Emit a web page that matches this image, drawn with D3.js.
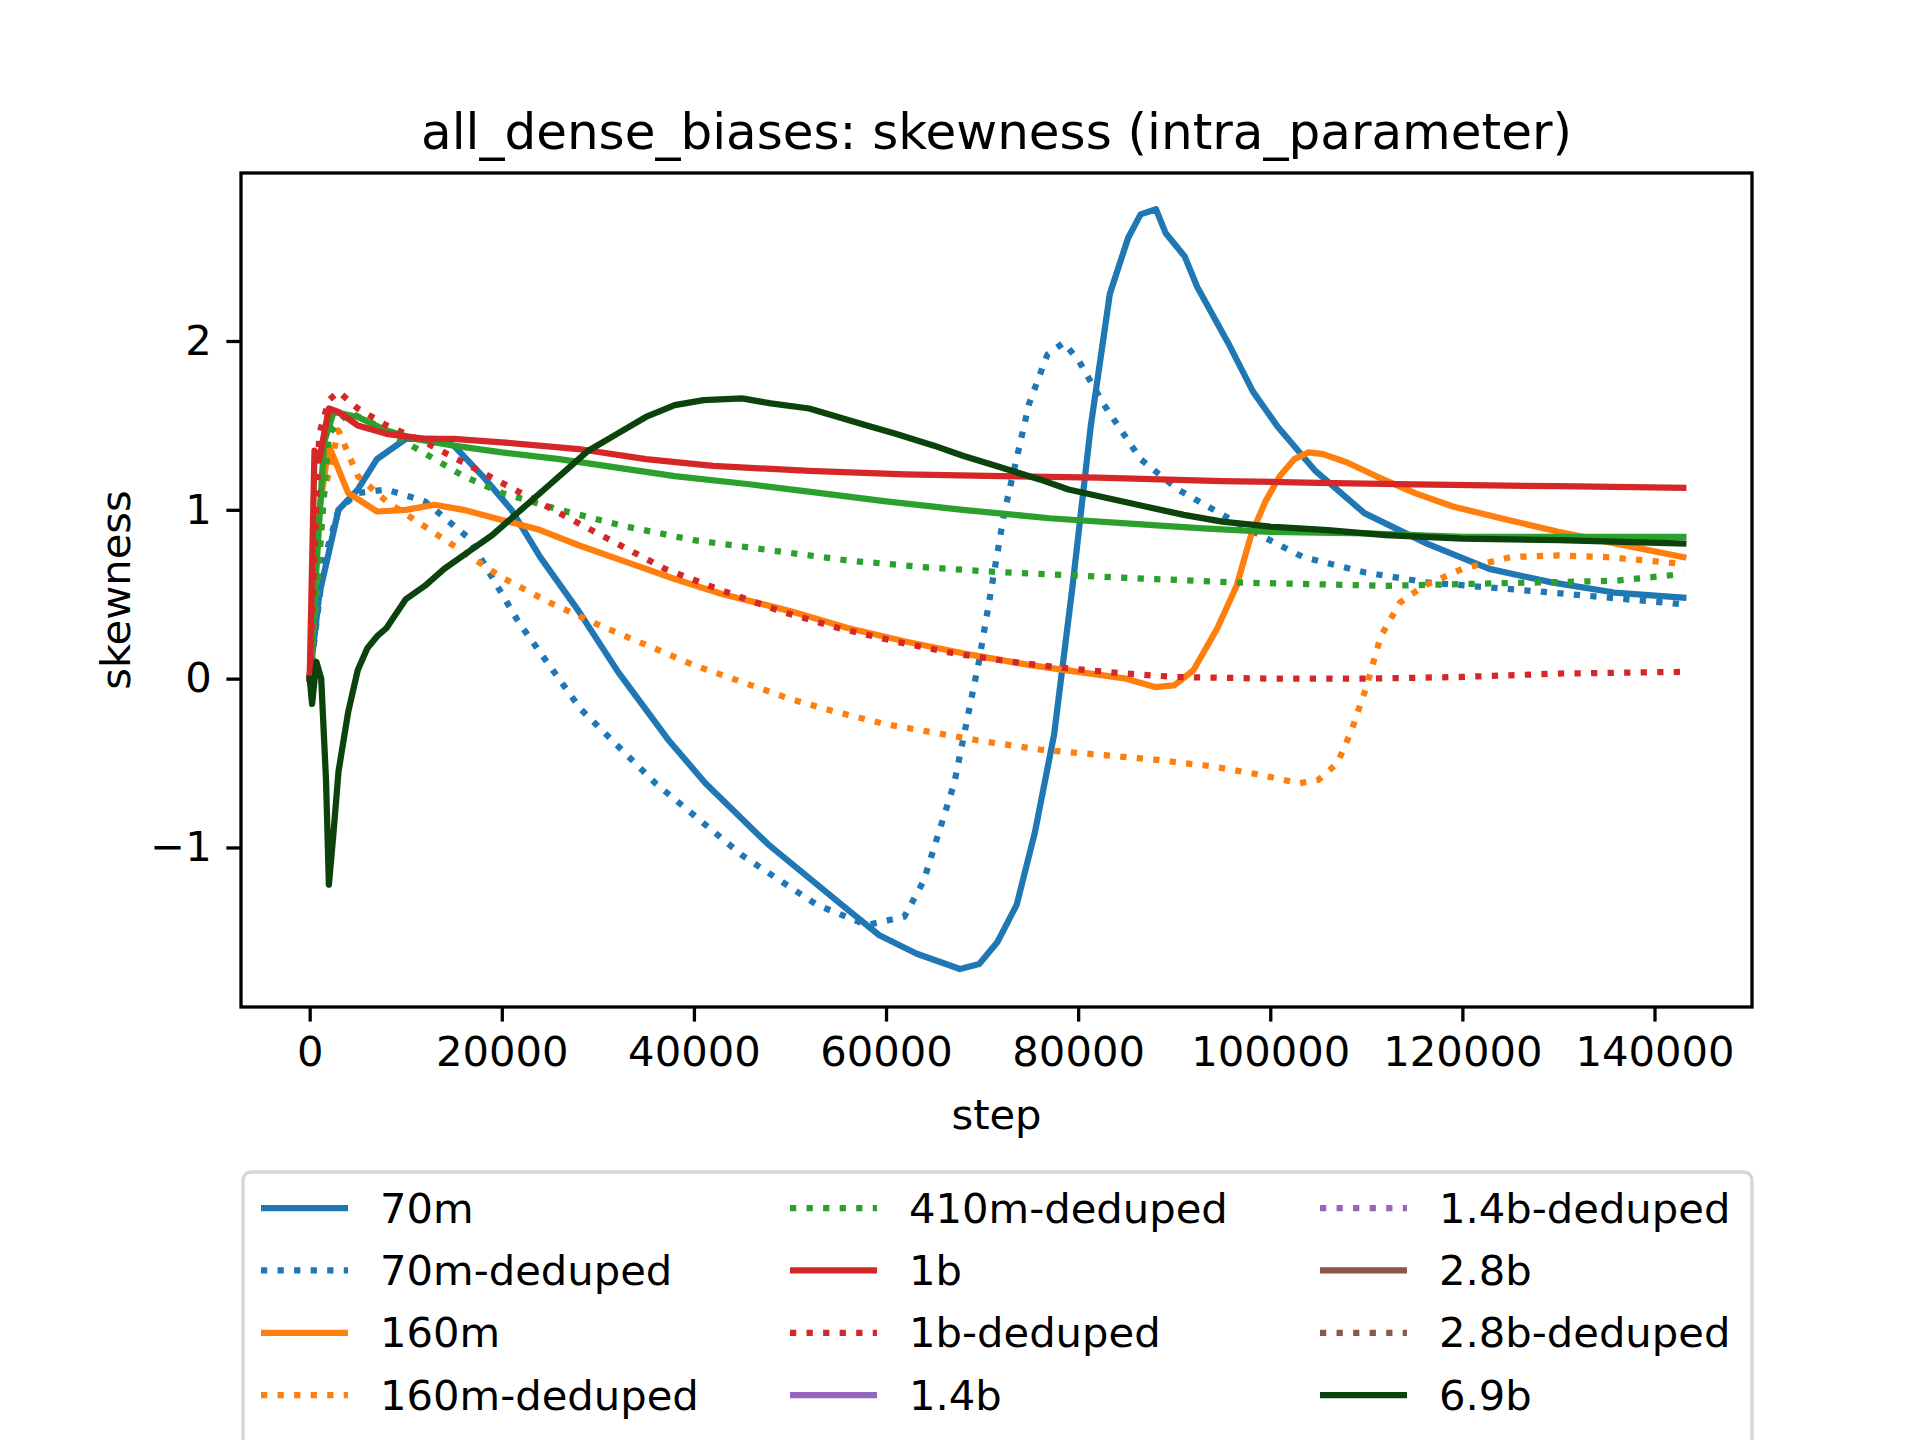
<!DOCTYPE html>
<html><head><meta charset="utf-8">
<script src="https://cdn.jsdelivr.net/npm/d3@7"></script>
<style>body{margin:0;background:#fff}text{font-family:"DejaVu Sans",sans-serif}</style>
</head><body>
<svg id="chart" width="1920" height="1440"></svg>
<script>
// series data: [step, skewness]
const s70m = [[0,0],[1000,0.5],[2000,0.75],[3000,1.0],[5000,1.12],[7000,1.3],[10000,1.42],[13000,1.42],[15000,1.38],[18000,1.2],[21000,1.0],[24000,0.72],[28000,0.4],[32100,0.04],[37300,-0.36],[41200,-0.62],[47700,-0.98],[55400,-1.34],[59300,-1.52],[63200,-1.63],[67700,-1.72],[69700,-1.69],[71600,-1.56],[73600,-1.34],[75500,-0.91],[77500,-0.33],[79400,0.54],[81300,1.49],[83300,2.28],[85200,2.61],[86500,2.75],[88100,2.78],[89100,2.64],[91100,2.5],[92400,2.32],[95600,1.99],[98200,1.7],[100800,1.49],[104700,1.23],[109800,0.98],[116300,0.8],[122800,0.65],[129300,0.57],[135800,0.51],[143000,0.48]];
const s70mDedup = [[0,0],[1500,0.7],[3000,1.0],[5000,1.1],[8000,1.12],[12000,1.05],[16600,0.83],[21800,0.33],[28200,-0.18],[36000,-0.62],[45100,-1.05],[52800,-1.34],[58000,-1.46],[61900,-1.41],[63900,-1.2],[67100,-0.62],[69700,0.11],[72300,0.98],[74900,1.63],[76800,1.92],[78500,1.99],[80100,1.88],[82600,1.63],[86500,1.3],[90400,1.12],[96900,0.91],[103400,0.72],[109800,0.63],[116300,0.57],[129300,0.51],[143000,0.44]];
const s160m = [[0,0],[1000,1.0],[2000,1.38],[4000,1.1],[7000,0.99],[10000,1.0],[13000,1.03],[16000,1.0],[20000,0.94],[24000,0.88],[28000,0.79],[33000,0.69],[38000,0.59],[43000,0.5],[50000,0.4],[56000,0.3],[62000,0.22],[68000,0.15],[75000,0.08],[80000,0.04],[85000,0.0],[88000,-0.05],[90000,-0.04],[92000,0.05],[94500,0.3],[96500,0.55],[98000,0.85],[99500,1.05],[101000,1.2],[102500,1.3],[104000,1.34],[105500,1.33],[108000,1.28],[111000,1.2],[115000,1.1],[119000,1.02],[124000,0.95],[130000,0.87],[136000,0.8],[143000,0.72]];
const s160mDedup = [[0,0],[1500,1.1],[3000,1.47],[5000,1.2],[8000,1.05],[12000,0.9],[16000,0.75],[20000,0.6],[25000,0.45],[30000,0.32],[35000,0.2],[40000,0.08],[45000,-0.02],[50000,-0.12],[55000,-0.2],[60000,-0.27],[65000,-0.32],[70000,-0.37],[76000,-0.42],[82000,-0.45],[88000,-0.48],[94000,-0.52],[99000,-0.57],[103000,-0.62],[105000,-0.6],[107000,-0.5],[108500,-0.3],[110000,-0.05],[111500,0.25],[113500,0.45],[116000,0.55],[120000,0.65],[125000,0.72],[130000,0.73],[135000,0.72],[143000,0.68]];
const s410m = [[0,0],[1500,1.4],[2500,1.58],[5000,1.55],[8000,1.47],[11000,1.42],[15000,1.38],[20000,1.34],[26000,1.3],[32000,1.25],[38000,1.2],[46000,1.15],[53000,1.1],[60000,1.05],[68000,1.0],[77000,0.95],[85000,0.92],[93000,0.89],[100000,0.87],[110000,0.86],[120000,0.84],[143000,0.84]];
const s410mDedup = [[0,0],[2000,1.45],[4000,1.58],[7000,1.5],[10000,1.4],[13000,1.3],[16000,1.2],[20000,1.1],[26000,1.0],[33000,0.9],[40000,0.82],[48000,0.76],[56000,0.7],[64000,0.66],[72000,0.63],[80000,0.61],[88000,0.59],[96000,0.57],[104000,0.56],[112000,0.55],[120000,0.56],[128000,0.57],[136000,0.58],[143000,0.62]];
const s1b = [[0,0],[500,1.35],[1000,1.3],[2000,1.6],[3000,1.58],[5000,1.5],[8000,1.45],[12000,1.42],[15000,1.42],[20000,1.4],[28000,1.36],[35000,1.3],[42000,1.26],[52000,1.23],[62000,1.21],[72000,1.2],[82000,1.19],[95000,1.17],[105000,1.16],[115000,1.15],[130000,1.14],[143000,1.13]];
const s1bDedup = [[0,0],[1000,1.45],[2000,1.65],[3000,1.7],[5000,1.6],[8000,1.5],[12000,1.4],[17000,1.25],[22000,1.1],[27000,0.95],[32000,0.8],[37000,0.65],[43000,0.52],[49000,0.4],[55000,0.3],[61000,0.22],[67000,0.15],[73000,0.1],[79000,0.06],[85000,0.03],[90000,0.01],[100000,0.0],[110000,0.0],[120000,0.01],[130000,0.03],[143000,0.04]];
const s6_9b = [[0,0],[250,-0.15],[700,0.1],[1200,0.0],[1700,-0.6],[2000,-1.22],[2500,-0.9],[3000,-0.55],[4000,-0.2],[5000,0.05],[6000,0.18],[7000,0.25],[8000,0.3],[10000,0.47],[12000,0.55],[14000,0.65],[16500,0.75],[19000,0.85],[21000,0.95],[23000,1.05],[25000,1.15],[27000,1.25],[29000,1.35],[32000,1.45],[35000,1.55],[38000,1.62],[41000,1.65],[45000,1.66],[48000,1.63],[52000,1.6],[55000,1.55],[58000,1.5],[61000,1.45],[65000,1.38],[68000,1.32],[72000,1.25],[76000,1.18],[79000,1.12],[83000,1.07],[87000,1.02],[91000,0.97],[95000,0.93],[100000,0.9],[106000,0.88],[112000,0.85],[120000,0.83],[130000,0.82],[143000,0.8]];

const legendNames = ["70m","70m-deduped","160m","160m-deduped","410m-deduped","1b","1b-deduped","1.4b","1.4b-deduped","2.8b","2.8b-deduped","6.9b"];
const legendColors = ["#1f77b4","#1f77b4","#ff7f0e","#ff7f0e","#2ca02c","#d62728","#d62728","#9467bd","#9467bd","#8c564b","#8c564b","#0c420c"];
const legendDotted = [false,true,false,true,true,false,true,false,true,false,true,false];
const xTicks = [0,20000,40000,60000,80000,100000,120000,140000];
const yTicks = [-1,0,1,2];

const series = [
  {d:s70m,c:"#1f77b4",dot:false},{d:s70mDedup,c:"#1f77b4",dot:true},
  {d:s160m,c:"#ff7f0e",dot:false},{d:s160mDedup,c:"#ff7f0e",dot:true},
  {d:s410m,c:"#2ca02c",dot:false},{d:s410mDedup,c:"#2ca02c",dot:true},
  {d:s1b,c:"#d62728",dot:false},{d:s1bDedup,c:"#d62728",dot:true},
  {d:s6_9b,c:"#0c420c",dot:false}
];

const L=241,R=1752,T=173,B=1007;
const svg=d3.select("#chart");
const x=d3.scaleLinear().domain([-7150,150150]).range([L,R]);
const y=d3.scaleLinear().domain([-1.945,2.995]).range([B,T]);
const lw=6.25, dash="6.25,10.3";

const clip=svg.append("clipPath").attr("id","cp").append("rect").attr("x",L).attr("y",T).attr("width",R-L).attr("height",B-T);
const line=d3.line().x(d=>x(d[0])).y(d=>y(d[1]));
svg.append("g").attr("clip-path","url(#cp)").selectAll("path").data(series).join("path")
  .attr("d",s=>line(s.d)).attr("fill","none").attr("stroke",s=>s.c).attr("stroke-width",lw)
  .attr("stroke-linejoin","round").attr("stroke-linecap",s=>s.dot?"butt":"square")
  .attr("stroke-dasharray",s=>s.dot?dash:null);

const fs=41.7;
svg.append("rect").attr("x",L).attr("y",T).attr("width",R-L).attr("height",B-T).attr("fill","none").attr("stroke","#000").attr("stroke-width",3.3);
const gx=svg.append("g").attr("transform",`translate(0,${B})`).call(d3.axisBottom(x).tickValues(xTicks).tickFormat(d3.format("d")).tickSize(14.6).tickPadding(14.6));
const gy=svg.append("g").attr("transform",`translate(${L},0)`).call(d3.axisLeft(y).tickValues(yTicks).tickFormat(d=>d<0?"\u2212"+(-d):d).tickSize(14.6).tickPadding(14.6));
[gx,gy].forEach(g=>{g.select(".domain").remove();g.selectAll("line").attr("stroke-width",3.3);g.selectAll("text").attr("font-size",fs).attr("font-family","DejaVu Sans");});

svg.append("text").attr("x",(L+R)/2).attr("y",131).attr("dy","0.35em").attr("text-anchor","middle").attr("font-size",50).text("all_dense_biases: skewness (intra_parameter)");
svg.append("text").attr("x",(L+R)/2).attr("y",1114).attr("dy","0.35em").attr("text-anchor","middle").attr("font-size",fs).text("step");
svg.append("text").attr("transform","translate(115,"+((T+B)/2)+") rotate(-90)").attr("dy","0.35em").attr("text-anchor","middle").attr("font-size",fs).text("skewness");

// legend, 3 columns x 4 rows
const lg=svg.append("g");
lg.append("rect").attr("x",243).attr("y",1172).attr("width",1509).attr("height",330).attr("rx",8).attr("fill","#fff").attr("stroke","#d6d6d6").attr("stroke-width",3.3);
const colX=[261,790,1320];
legendNames.forEach((n,i)=>{
  const c=Math.floor(i/4), r=i%4, yy=1208+r*62.4;
  lg.append("line").attr("x1",colX[c]).attr("x2",colX[c]+87).attr("y1",yy).attr("y2",yy)
    .attr("stroke",legendColors[i]).attr("stroke-width",lw).attr("stroke-dasharray",legendDotted[i]?dash:null);
  lg.append("text").attr("x",colX[c]+119).attr("y",yy).attr("dy","0.35em").attr("font-size",fs).text(n);
});
</script>
</body></html>
